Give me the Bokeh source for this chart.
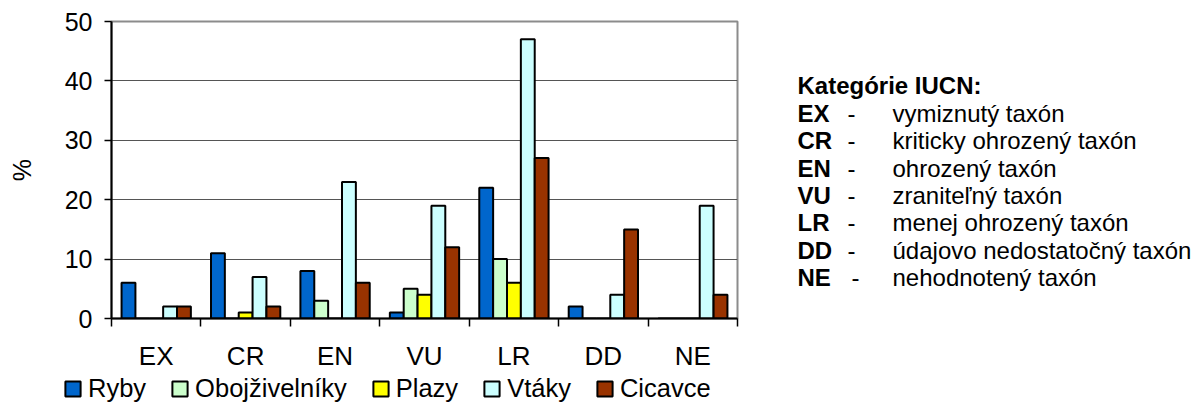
import numpy as np
from bokeh.plotting import figure
from bokeh.layouts import row, column
from bokeh.models import Range1d, FixedTicker, Legend, LegendItem
from bokeh.core.properties import value
from bokeh.embed import file_html
from bokeh.resources import INLINE

categories = ["EX", "CR", "EN", "VU", "LR", "DD", "NE"]
series_names = ["Ryby", "Obojživelníky", "Plazy", "Vtáky", "Cicavce"]
ryby = [6, 11, 8, 1, 22, 2, 0]
obojzivelniky = [0, 0, 3, 5, 10, 0, 0]
plazy = [0, 1, 0, 4, 6, 0, 0]
vtaky = [2, 7, 23, 19, 47, 4, 19]
cicavce = [2, 2, 6, 12, 27, 15, 4]
series_values = [ryby, obojzivelniky, plazy, vtaky, cicavce]
colors = ["#0066CC", "#CCFFCC", "#FFFF00", "#CCFFFF", "#993300"]
y_ticks = [0, 10, 20, 30, 40, 50]

legend_title = "Kategórie IUCN:"
iucn_codes = ["EX", "CR", "EN", "VU", "LR", "DD", "NE"]
iucn_desc = ["vymiznutý taxón", "kriticky ohrozený taxón", "ohrozený taxón",
             "zraniteľný taxón", "menej ohrozený taxón",
             "údajovo nedostatočný taxón", "nehodnotený taxón"]

FONT = "Liberation Sans"
H_TOP = 373
H_LEG = 30
W1 = 760
L, T = 111, 21
FRAME_BOTTOM = 319
B = H_TOP - FRAME_BOTTOM
R = W1 - 737

n = len(categories)
centers = np.arange(n)
p = figure(width=W1, height=H_TOP, x_range=Range1d(-0.5, n - 0.5), y_range=Range1d(0, 50),
           output_backend="svg", toolbar_location=None,
           min_border_left=L, min_border_right=R, min_border_top=T, min_border_bottom=B)
p.outline_line_color = "#8c8c8c"
p.outline_line_width = 2

bw = 0.155
for j, (vals, col) in enumerate(zip(series_values, colors)):
    p.vbar(x=centers + (j - 2) * bw, top=vals, bottom=0, width=bw,
           fill_color=col, line_color="black", line_width=2)

# y axis
ya = p.yaxis[0]
ya.ticker = FixedTicker(ticks=y_ticks)
ya.major_tick_out = 7
ya.major_tick_in = 0
ya.minor_tick_out = 0
ya.minor_tick_in = 0
ya.axis_line_color = "black"
ya.axis_line_width = 2
ya.major_tick_line_color = "black"
ya.major_tick_line_width = 1.5
ya.major_label_standoff = 12
ya.major_label_text_font = FONT
ya.major_label_text_font_size = "25px"
ya.major_label_text_color = "black"
ya.axis_label = "%"
ya.axis_label_text_font = FONT
ya.axis_label_text_font_size = "25px"
ya.axis_label_text_font_style = "normal"
ya.axis_label_text_color = "black"
ya.axis_label_standoff = 26

# x axis
xa = p.xaxis[0]
xa.ticker = FixedTicker(ticks=list(centers), minor_ticks=list(np.arange(n + 1) - 0.5))
xa.major_label_overrides = {int(i): c for i, c in enumerate(categories)}
xa.major_tick_out = 0
xa.major_tick_in = 0
xa.minor_tick_out = 8
xa.minor_tick_in = 0
xa.minor_tick_line_color = "black"
xa.minor_tick_line_width = 1.5
xa.axis_line_color = "black"
xa.axis_line_width = 2
xa.major_label_standoff = 14
xa.major_label_text_font = FONT
xa.major_label_text_font_size = "26px"
xa.major_label_text_color = "black"

p.xgrid.visible = False
p.ygrid.ticker = FixedTicker(ticks=y_ticks)
p.ygrid.grid_line_color = "#555555"
p.ygrid.grid_line_width = 1.2

# legend strip below the chart (hidden proxy renderers of the same series)
pl = figure(width=W1, height=H_LEG, x_range=Range1d(-0.5, n - 0.5), y_range=Range1d(0, 50),
            output_backend="svg", toolbar_location=None,
            min_border_left=0, min_border_right=0, min_border_top=0, min_border_bottom=0)
pl.axis.visible = False
pl.grid.visible = False
pl.outline_line_color = None
leg_items = []
for j, (nm, vals, col) in enumerate(zip(series_names, series_values, colors)):
    r = pl.vbar(x=centers + (j - 2) * bw, top=vals, bottom=0, width=bw,
                fill_color=col, line_color="black", line_width=2)
    r.visible = False
    leg_items.append(LegendItem(label=nm, renderers=[r]))
leg = Legend(items=leg_items, orientation="horizontal", location=(63, 0),
             glyph_width=19, glyph_height=19, label_standoff=6, spacing=24,
             padding=0, margin=0, border_line_color=None, background_fill_alpha=0,
             inactive_fill_alpha=0,
             label_text_font=FONT, label_text_font_size="25.5px", label_text_color="black")
pl.add_layout(leg, "center")

# right text block figure: data units equal page pixels (x from left of this panel, y from top)
W2 = 1200 - W1
p2 = figure(width=W2, height=H_TOP, x_range=Range1d(0, W2), y_range=Range1d(FRAME_BOTTOM, T),
            output_backend="svg", toolbar_location=None,
            min_border_left=0, min_border_right=0, min_border_top=T, min_border_bottom=B)
p2.axis.visible = False
p2.grid.visible = False
p2.outline_line_color = None

x0 = 797 - W1
row_y = [113 + k * 27.5 for k in range(len(iucn_codes))]
p2.text(x=[x0], y=[85], text=[legend_title], text_font=value(FONT), text_font_size="24px",
        text_font_style="bold", text_baseline="middle", text_color="black")
p2.text(x=[x0] * len(iucn_codes), y=row_y, text=iucn_codes, text_font=value(FONT),
        text_font_size="24px", text_font_style="bold", text_baseline="middle", text_color="black")
dash_x = [851 - W1 + (4 if c == "NE" else 0) for c in iucn_codes]
p2.text(x=dash_x, y=row_y, text=["-"] * len(iucn_codes), text_font=value(FONT),
        text_font_size="24px", text_align="center", text_baseline="middle", text_color="black")
p2.text(x=[892 - W1] * len(iucn_codes), y=row_y, text=iucn_desc, text_font=value(FONT),
        text_font_size="24px", text_baseline="middle", text_color="black")

layout = column(row(p, p2), pl)
open("out.html", "w").write(file_html(layout, INLINE))
